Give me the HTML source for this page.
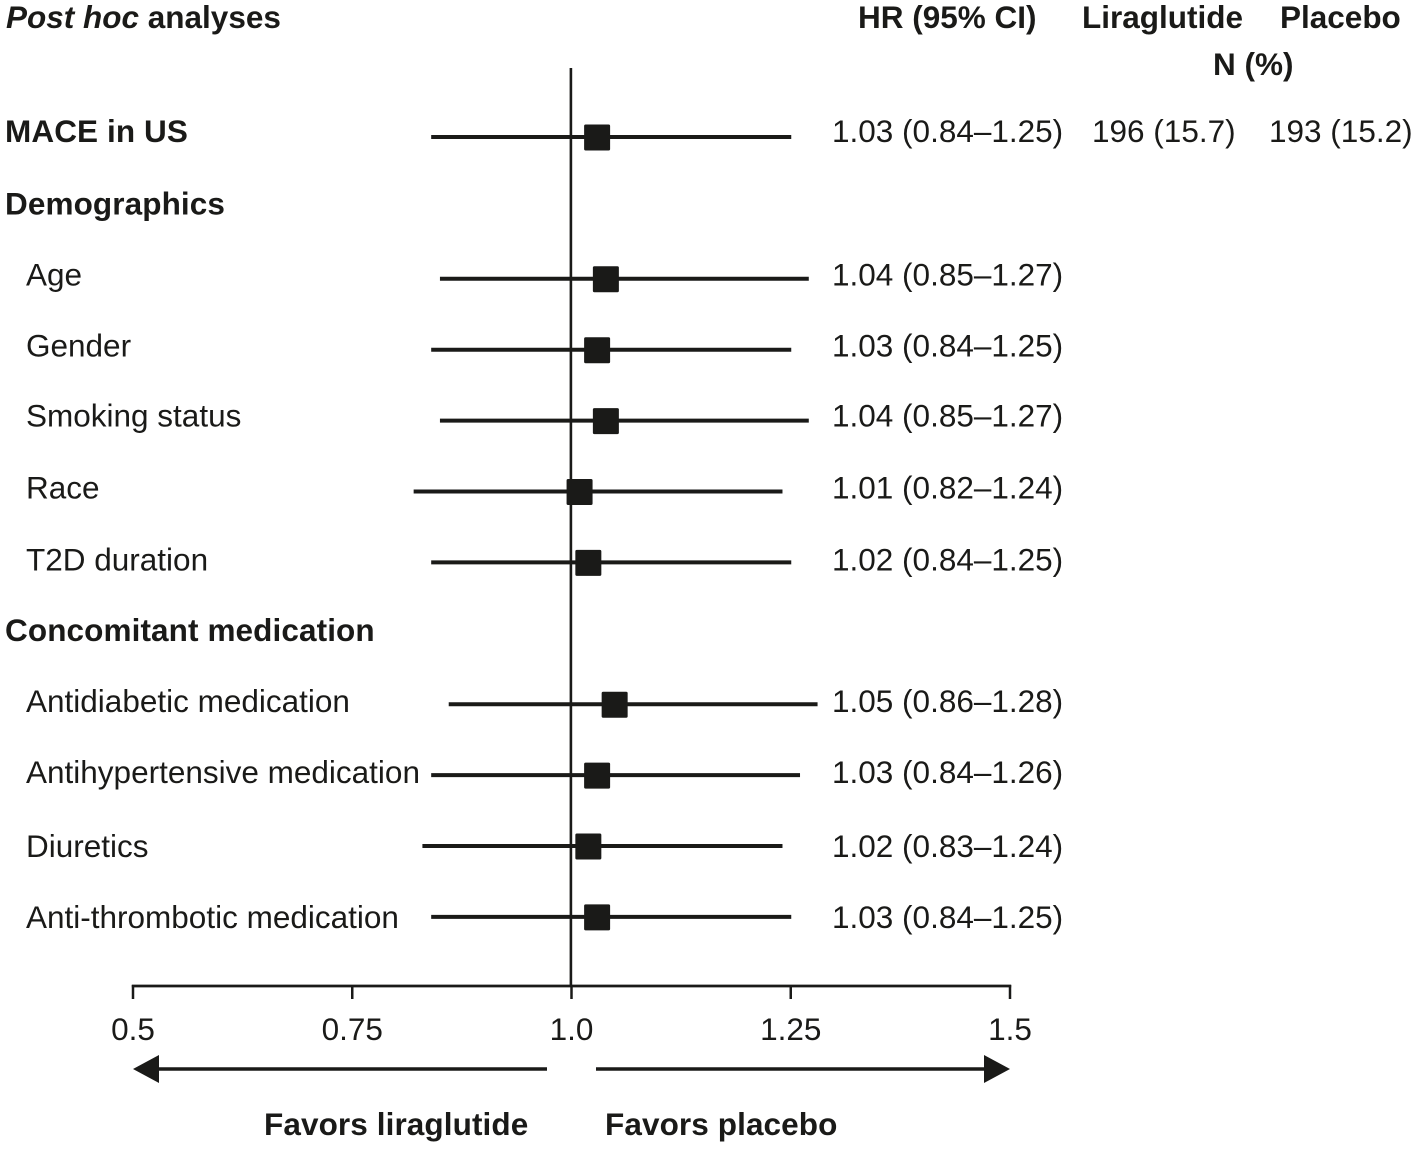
<!DOCTYPE html>
<html lang="en">
<head>
<meta charset="utf-8">
<title>Post hoc analyses forest plot</title>
<style>
html,body{margin:0;padding:0;background:#fff;width:1417px;height:1149px;overflow:hidden}
svg{display:block}
text{font-family:"Liberation Sans",Arial,sans-serif;font-size:31.5px;fill:#1a1a18}
.b{font-weight:bold}
.w{letter-spacing:.1px}
</style>
</head>
<body>
<svg id="chart" xmlns="http://www.w3.org/2000/svg" width="1417" height="1149" viewBox="0 0 1417 1149">
<rect x="0" y="0" width="1417" height="1149" fill="#fff"/>
<text class="b" x="6" y="28"><tspan font-style="italic">Post hoc</tspan> analyses</text>
<text class="b" x="858" y="28">HR (95% CI)</text>
<text class="b" x="1082" y="28">Liraglutide</text>
<text class="b" x="1280" y="28">Placebo</text>
<text class="b" x="1213" y="75">N (%)</text>
<g id="rows"></g>
<g id="axis"></g>
<line x1="150" y1="1069" x2="547" y2="1069" stroke="#1a1a18" stroke-width="3.5"/>
<polygon points="133,1069 159,1055 159,1083" fill="#1a1a18"/>
<line x1="596" y1="1069" x2="995" y2="1069" stroke="#1a1a18" stroke-width="3.5"/>
<polygon points="1010,1069 984,1055 984,1083" fill="#1a1a18"/>
<text class="b w" x="264" y="1135">Favors liraglutide</text>
<text class="b w" x="605" y="1135">Favors placebo</text>
</svg>
<script>
const categories = ["MACE in US","Demographics","Age","Gender","Smoking status","Race","T2D duration","Concomitant medication","Antidiabetic medication","Antihypertensive medication","Diuretics","Anti-thrombotic medication"];
const isHeading = [true,true,false,false,false,false,false,true,false,false,false,false];
const hrValues = [1.03,null,1.04,1.03,1.04,1.01,1.02,null,1.05,1.03,1.02,1.03];
const ciLower = [0.84,null,0.85,0.84,0.85,0.82,0.84,null,0.86,0.84,0.83,0.84];
const ciUpper = [1.25,null,1.27,1.25,1.27,1.24,1.25,null,1.28,1.26,1.24,1.25];
const hrLabels = ["1.03 (0.84–1.25)","","1.04 (0.85–1.27)","1.03 (0.84–1.25)","1.04 (0.85–1.27)","1.01 (0.82–1.24)","1.02 (0.84–1.25)","","1.05 (0.86–1.28)","1.03 (0.84–1.26)","1.02 (0.83–1.24)","1.03 (0.84–1.25)"];
const liraglutideLabels = ["196 (15.7)"];
const placeboLabels = ["193 (15.2)"];
const xTicks = [0.5,0.75,1.0,1.25,1.5];
const xTickLabels = ["0.5","0.75","1.0","1.25","1.5"];
const referenceValue = 1.0;

const NS = "http://www.w3.org/2000/svg";
const INK = "#1a1a18";
function xScale(v){ return 133 + (v - 0.5) * 877; }
function yScale(i){ return 137 + 70.9 * i; }
function textNudge(i){
  if (i === 10 || i === 11) return 4;
  if (i === 6) return 2;
  if (i === 0 || i === 4) return 0;
  return 1.2;
}
function textY(i){ return 142 + 71.1 * i + textNudge(i); }
function make(tag, attrs, parent, content){
  const el = document.createElementNS(NS, tag);
  for (const k in attrs) el.setAttribute(k, attrs[k]);
  if (content !== undefined) el.textContent = content;
  parent.appendChild(el);
  return el;
}
const rowsG = document.getElementById("rows");
const axisG = document.getElementById("axis");

const refLine = make("line", {x1:xScale(referenceValue) - 0.6, x2:xScale(referenceValue) - 0.6, y1:68, y2:986, stroke:INK, "stroke-width":2.6}, rowsG);



categories.forEach(function(name, i){
  const label = make("text", {x: isHeading[i] ? 5 : 26, y: textY(i), class: isHeading[i] ? "b w" : ""}, rowsG, name);
  
  
  if (hrValues[i] === null) return;
  const y = yScale(i);
  const ci = make("line", {x1:xScale(ciLower[i]), x2:xScale(ciUpper[i]) + 0.5, y1:y, y2:y, stroke:INK, "stroke-width":4}, rowsG);
  
  
  const m = make("rect", {x:xScale(hrValues[i]) - 13.7, y:y - 12.5, width:26, height:26, rx:1.5, fill:INK}, rowsG);
  
  
  const hr = make("text", {x:832, y:textY(i)}, rowsG, hrLabels[i]);
  
  
});

liraglutideLabels.forEach(function(t, i){
  const el = make("text", {x:1092, y:textY(i)}, rowsG, t);
  
  
});
placeboLabels.forEach(function(t, i){
  const el = make("text", {x:1269, y:textY(i)}, rowsG, t);
  
  
});

const axisLine = make("line", {x1:xScale(xTicks[0]) - 1.2, x2:xScale(xTicks[xTicks.length-1]) + 1.2, y1:986, y2:986, stroke:INK, "stroke-width":2.8}, axisG);


xTicks.forEach(function(v, i){
  const t = make("line", {x1:xScale(v), x2:xScale(v), y1:985, y2:999, stroke:INK, "stroke-width":2.5}, axisG);
  
  
  const l = make("text", {x:xScale(v), y:1040, "text-anchor":"middle"}, axisG, xTickLabels[i]);
  
  
});
</script>
</body>
</html>
